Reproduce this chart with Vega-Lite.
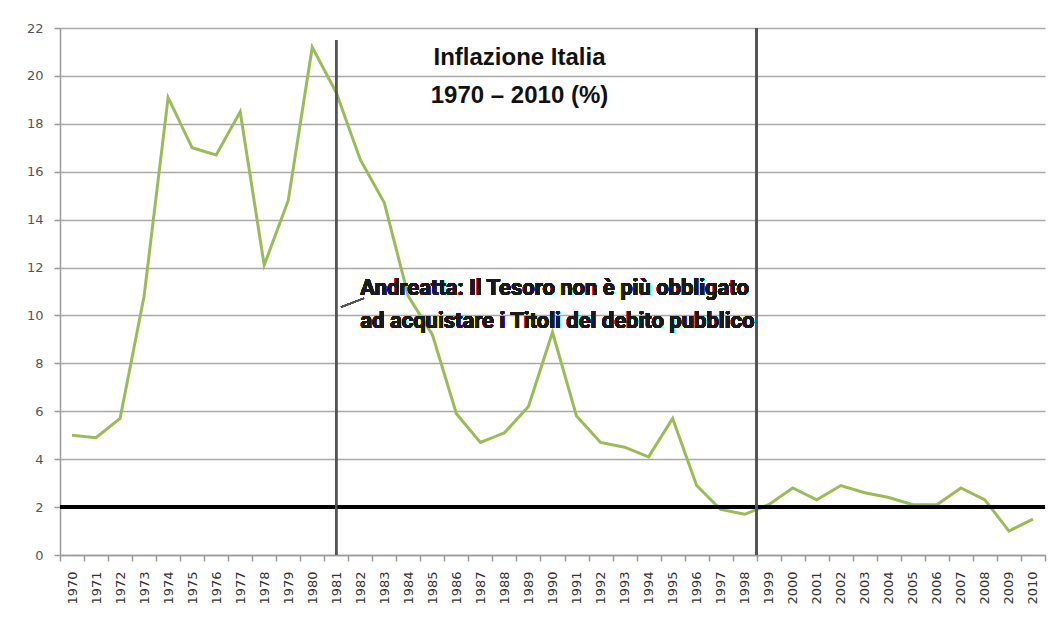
{
  "$schema": "https://vega.github.io/schema/vega-lite/v6.json",
  "width": 985,
  "height": 527,
  "autosize": {"type": "none"},
  "padding": {"left": 60, "top": 28, "right": 9, "bottom": 64},
  "background": "white",
  "config": {
    "view": {"stroke": null},
    "font": "DejaVu Sans"
  },
  "title": {
    "text": ["Inflazione Italia", "1970 – 2010 (%)"],
    "font": "Liberation Sans",
    "fontSize": 24,
    "fontWeight": "bold",
    "color": "#111111",
    "anchor": "middle",
    "frame": "group",
    "orient": "top",
    "baseline": "alphabetic",
    "lineHeight": 38,
    "offset": -105,
    "dx": -33
  },
  "data": {
    "values": [
      {"year": 1970, "inflation": 5.0},
      {"year": 1971, "inflation": 4.9},
      {"year": 1972, "inflation": 5.7},
      {"year": 1973, "inflation": 10.8},
      {"year": 1974, "inflation": 19.1},
      {"year": 1975, "inflation": 17.0},
      {"year": 1976, "inflation": 16.7},
      {"year": 1977, "inflation": 18.5},
      {"year": 1978, "inflation": 12.1},
      {"year": 1979, "inflation": 14.8},
      {"year": 1980, "inflation": 21.2},
      {"year": 1981, "inflation": 19.3},
      {"year": 1982, "inflation": 16.5},
      {"year": 1983, "inflation": 14.7},
      {"year": 1984, "inflation": 10.8},
      {"year": 1985, "inflation": 9.2},
      {"year": 1986, "inflation": 5.9},
      {"year": 1987, "inflation": 4.7},
      {"year": 1988, "inflation": 5.1},
      {"year": 1989, "inflation": 6.2},
      {"year": 1990, "inflation": 9.3},
      {"year": 1991, "inflation": 5.8},
      {"year": 1992, "inflation": 4.7},
      {"year": 1993, "inflation": 4.5},
      {"year": 1994, "inflation": 4.1},
      {"year": 1995, "inflation": 5.7},
      {"year": 1996, "inflation": 2.9},
      {"year": 1997, "inflation": 1.9},
      {"year": 1998, "inflation": 1.7},
      {"year": 1999, "inflation": 2.1},
      {"year": 2000, "inflation": 2.8},
      {"year": 2001, "inflation": 2.3},
      {"year": 2002, "inflation": 2.9},
      {"year": 2003, "inflation": 2.6},
      {"year": 2004, "inflation": 2.4},
      {"year": 2005, "inflation": 2.1},
      {"year": 2006, "inflation": 2.1},
      {"year": 2007, "inflation": 2.8},
      {"year": 2008, "inflation": 2.3},
      {"year": 2009, "inflation": 1.0},
      {"year": 2010, "inflation": 1.5}
    ]
  },
  "layer": [
    {
      "mark": {"type": "line", "color": "#9bbb59", "strokeWidth": 3},
      "encoding": {
        "x": {
          "field": "year",
          "type": "ordinal",
          "bandPosition": 0.5,
          "scale": {"type": "band", "paddingInner": 0, "paddingOuter": 0},
          "axis": {
            "title": null,
            "labelAngle": -90,
            "labelFontSize": 13,
            "labelFont": "DejaVu Sans",
            "labelColor": "#333333",
            "labelPadding": 10,
            "tickBand": "extent",
            "tickSize": 6,
            "tickColor": "#9a9a9a",
            "tickWidth": 1.5,
            "domainColor": "#9a9a9a",
            "domainWidth": 1.5,
            "grid": false
          }
        },
        "y": {
          "field": "inflation",
          "type": "quantitative",
          "scale": {"domain": [0, 22], "nice": false},
          "axis": {
            "title": null,
            "values": [0, 2, 4, 6, 8, 10, 12, 14, 16, 18, 20, 22],
            "labelFontSize": 13,
            "labelFont": "DejaVu Sans",
            "labelColor": "#555555",
            "labelPadding": 11,
            "tickSize": 6,
            "tickColor": "#9a9a9a",
            "tickWidth": 1.5,
            "domainColor": "#9a9a9a",
            "domainWidth": 1.5,
            "gridColor": "#a8a8a8",
            "gridWidth": 1.5,
            "gridOpacity": 1
          }
        }
      }
    },
    {
      "mark": {"type": "rule", "color": "#000000", "strokeWidth": 4},
      "encoding": {"y": {"datum": 2, "type": "quantitative"}}
    },
    {
      "mark": {"type": "rule", "color": "#555555", "strokeWidth": 1.5},
      "encoding": {
        "x": {"datum": 1981, "type": "ordinal", "bandPosition": 0.5},
        "y": {"datum": 0, "type": "quantitative"},
        "y2": {"datum": 21.5}
      }
    },
    {
      "mark": {"type": "rule", "color": "#555555", "strokeWidth": 2},
      "encoding": {
        "x": {"datum": 1999, "type": "ordinal", "bandPosition": 0},
        "y": {"datum": 0, "type": "quantitative"},
        "y2": {"datum": 22}
      }
    },
    {
      "mark": {"type": "rule", "color": "#555555", "strokeWidth": 1.2},
      "encoding": {
        "x": {"datum": 1981, "type": "ordinal", "bandPosition": 0.7},
        "x2": {"datum": 1982, "bandPosition": 0.65},
        "y": {"datum": 10.35, "type": "quantitative"},
        "y2": {"datum": 10.72}
      }
    },
    {
      "mark": {
        "type": "text",
        "text": ["Andreatta: Il Tesoro non è più obbligato", "ad acquistare i Titoli del debito pubblico"],
        "font": "Roboto",
        "fontSize": 22,
        "fontWeight": "bold",
        "color": "#1a1a1a",
        "align": "left",
        "baseline": "alphabetic",
        "lineHeight": 33
      },
      "encoding": {
        "x": {"datum": 1982, "type": "ordinal", "bandPosition": 0.5},
        "y": {"datum": 10.85, "type": "quantitative"}
      }
    }
  ]
}
